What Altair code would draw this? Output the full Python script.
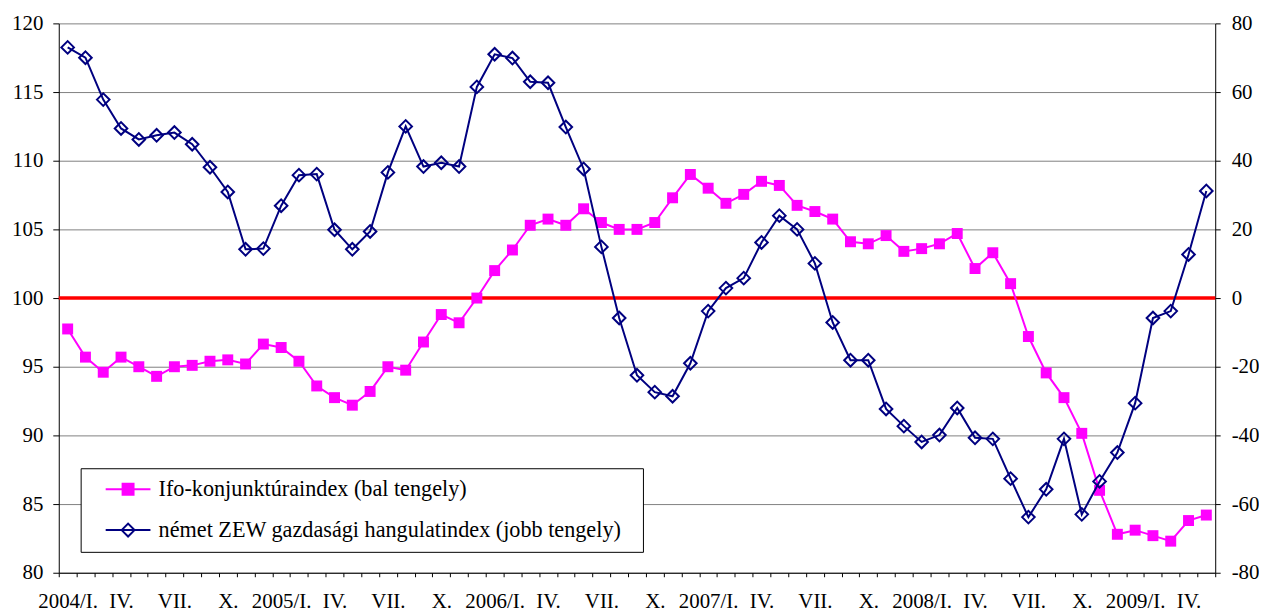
import altair as alt
import pandas as pd

# ---- data (monthly, 2004 Jan - 2009 May) ----
ifo_values = [
    97.75, 95.7, 94.6, 95.7, 95.0, 94.3, 95.0, 95.1, 95.4, 95.5, 95.2, 96.65,
    96.4, 95.4, 93.6, 92.75, 92.2, 93.2, 95.0, 94.75, 96.8, 98.8, 98.2, 100.0,
    102.0, 103.5, 105.3, 105.75, 105.3, 106.5, 105.5, 105.0, 105.0, 105.5, 107.3, 109.0,
    108.0, 106.9, 107.55, 108.5, 108.2, 106.75, 106.3, 105.75, 104.1, 103.95, 104.55, 103.4,
    103.6, 103.95, 104.7, 102.15, 103.3, 101.05, 97.2, 94.55, 92.75, 90.15, 86.0, 82.8,
    83.1, 82.7, 82.3, 83.8, 84.2,
]
zew_values = [
    73.0, 70.0, 57.8, 49.4, 46.2, 47.4, 48.2, 44.8, 38.1, 30.9, 14.2, 14.4,
    26.9, 35.8, 36.1, 19.9, 14.2, 19.4, 36.6, 50.0, 38.3, 39.4, 38.3, 61.5,
    71.0, 69.9, 63.0, 62.7, 49.8, 37.6, 14.9, -5.8, -22.5, -27.4, -28.6, -19.0,
    -3.8, 2.9, 5.8, 16.2, 24.0, 20.0, 10.1, -7.1, -18.1, -18.1, -32.3, -37.3,
    -41.9, -39.9, -32.0, -40.7, -41.0, -52.6, -63.8, -55.7, -41.0, -63.0, -53.4, -45.0,
    -30.6, -5.8, -3.8, 12.7, 31.2,
]
x_tick_labels = [
    "2004/I.", "IV.", "VII.", "X.",
    "2005/I.", "IV.", "VII.", "X.",
    "2006/I.", "IV.", "VII.", "X.",
    "2007/I.", "IV.", "VII.", "X.",
    "2008/I.", "IV.", "VII.", "X.",
    "2009/I.", "IV.",
]
ifo_name = "Ifo-konjunktúraindex (bal tengely)"
zew_name = "német ZEW gazdasági hangulatindex (jobb tengely)"
series_names = [ifo_name, zew_name]
series_colors = ["#ff00ff", "#000080"]
series_fills = ["#ff00ff", "transparent"]
left_ticks = [80, 85, 90, 95, 100, 105, 110, 115, 120]
right_ticks = [-80, -60, -40, -20, 0, 20, 40, 60, 80]
reference_level = [100]

FONT = "Liberation Serif, Times New Roman, Times, DejaVu Serif, serif"

n = len(ifo_values)
month_index = list(range(n))
full_labels = [x_tick_labels[k // 3] if k % 3 == 0 else "" for k in month_index]
label_expr = "[" + ",".join("'" + s + "'" for s in full_labels) + "][datum.value]"

ifo_df = pd.DataFrame({"i": month_index, "value": ifo_values, "series": ifo_name})
zew_df = pd.DataFrame({"i": month_index, "value": zew_values, "series": zew_name})
ref_df = pd.DataFrame({"v": reference_level})
legend_df = pd.DataFrame({"series": series_names, "i": [0, 0], "value": [100, 100]})

x_enc = alt.X(
    "i:O",
    scale=alt.Scale(type="band", paddingInner=0, paddingOuter=0),
    axis=alt.Axis(
        title=None, labelExpr=label_expr, labelAngle=0, tickBand="extent",
        tickSize=4, tickColor="black", tickWidth=1,
        domainColor="black", domainWidth=1,
        labelFont=FONT, labelFontSize=21, labelColor="black",
        labelBaseline="alphabetic", labelPadding=31, labelOverlap=False,
        grid=False,
    ),
)

left_scale = alt.Scale(domain=[80, 120], nice=False, zero=False)
right_scale = alt.Scale(domain=[-80, 80], nice=False, zero=False)

left_axis = alt.Axis(
    orient="left", title=None, values=left_ticks, grid=True,
    gridColor="#808080", gridWidth=1, domainColor="black", domainWidth=1,
    tickColor="black", tickSize=6, labelPadding=10,
    labelFont=FONT, labelFontSize=21, labelColor="black",
)
right_axis = alt.Axis(
    orient="right", title=None, values=right_ticks, grid=False,
    domainColor="black", domainWidth=1, tickColor="black", tickSize=5,
    labelPadding=11, labelFont=FONT, labelFontSize=21, labelColor="black",
    labelExpr="'' + datum.value",
)

# legend symbols: line with marker (custom paths)
ifo_shape = "M0.4,0H4.9M2.1,-0.55H3.2V0.55H2.1Z"
zew_shape = "M0.4,0H4.9M2,0L2.65,-0.65L3.3,0L2.65,0.65Z"

legend = alt.Legend(
    orient="none", legendX=22, legendY=447, padding=10,
    title=".", titleOrient="right", titleColor="white", titleFontSize=2,
    titlePadding=11,
    strokeColor="black", fillColor="white", cornerRadius=0,
    labelFont=FONT, labelFontSize=22.3, labelColor="black", labelLimit=1000,
    symbolSize=400, symbolStrokeWidth=2, symbolOpacity=1,
    rowPadding=18, labelOffset=46,
)
color_scale = alt.Scale(domain=series_names, range=series_colors)
color_enc = alt.Color("series:N", scale=color_scale, legend=None)

ref_layer = alt.Chart(ref_df).mark_rule(color="#ff0000", strokeWidth=3.5).encode(
    y=alt.Y("v:Q", scale=left_scale, axis=left_axis)
)
legend_layer = alt.Chart(legend_df).mark_point(opacity=1).encode(
    x=x_enc,
    y=alt.Y("value:Q", scale=left_scale, axis=left_axis),
    stroke=alt.Stroke("series:N", scale=alt.Scale(domain=series_names, range=series_colors), legend=legend),
    shape=alt.Shape("series:N", scale=alt.Scale(domain=series_names, range=[ifo_shape, zew_shape]), legend=legend),
    fill=alt.Fill("series:N", scale=alt.Scale(domain=series_names, range=series_fills), legend=legend),
).transform_filter("false")
ifo_layer = alt.Chart(ifo_df).mark_line(
    strokeWidth=2,
    point=alt.OverlayMarkDef(shape="square", size=121, filled=True, opacity=1),
).encode(
    x=x_enc,
    y=alt.Y("value:Q", scale=left_scale, axis=left_axis),
    color=color_enc,
)
left = alt.layer(ref_layer, legend_layer, ifo_layer)

zew_layer = alt.Chart(zew_df).mark_line(
    strokeWidth=2,
    point=alt.OverlayMarkDef(shape="diamond", size=160, filled=False, strokeWidth=2, opacity=1),
).encode(
    x=x_enc,
    y=alt.Y("value:Q", scale=right_scale, axis=right_axis),
    color=color_enc,
)

chart = (
    alt.layer(left, zew_layer)
    .resolve_scale(y="independent")
    .properties(
        width=1162, height=552,
        padding={"left": 51, "top": 14, "right": 44, "bottom": 40},
        autosize=alt.AutoSizeParams(type="none"),
        background="white",
    )
    .configure_view(stroke=None)
)

chart.save("out.html", embed_options={"renderer": "svg", "actions": False})
